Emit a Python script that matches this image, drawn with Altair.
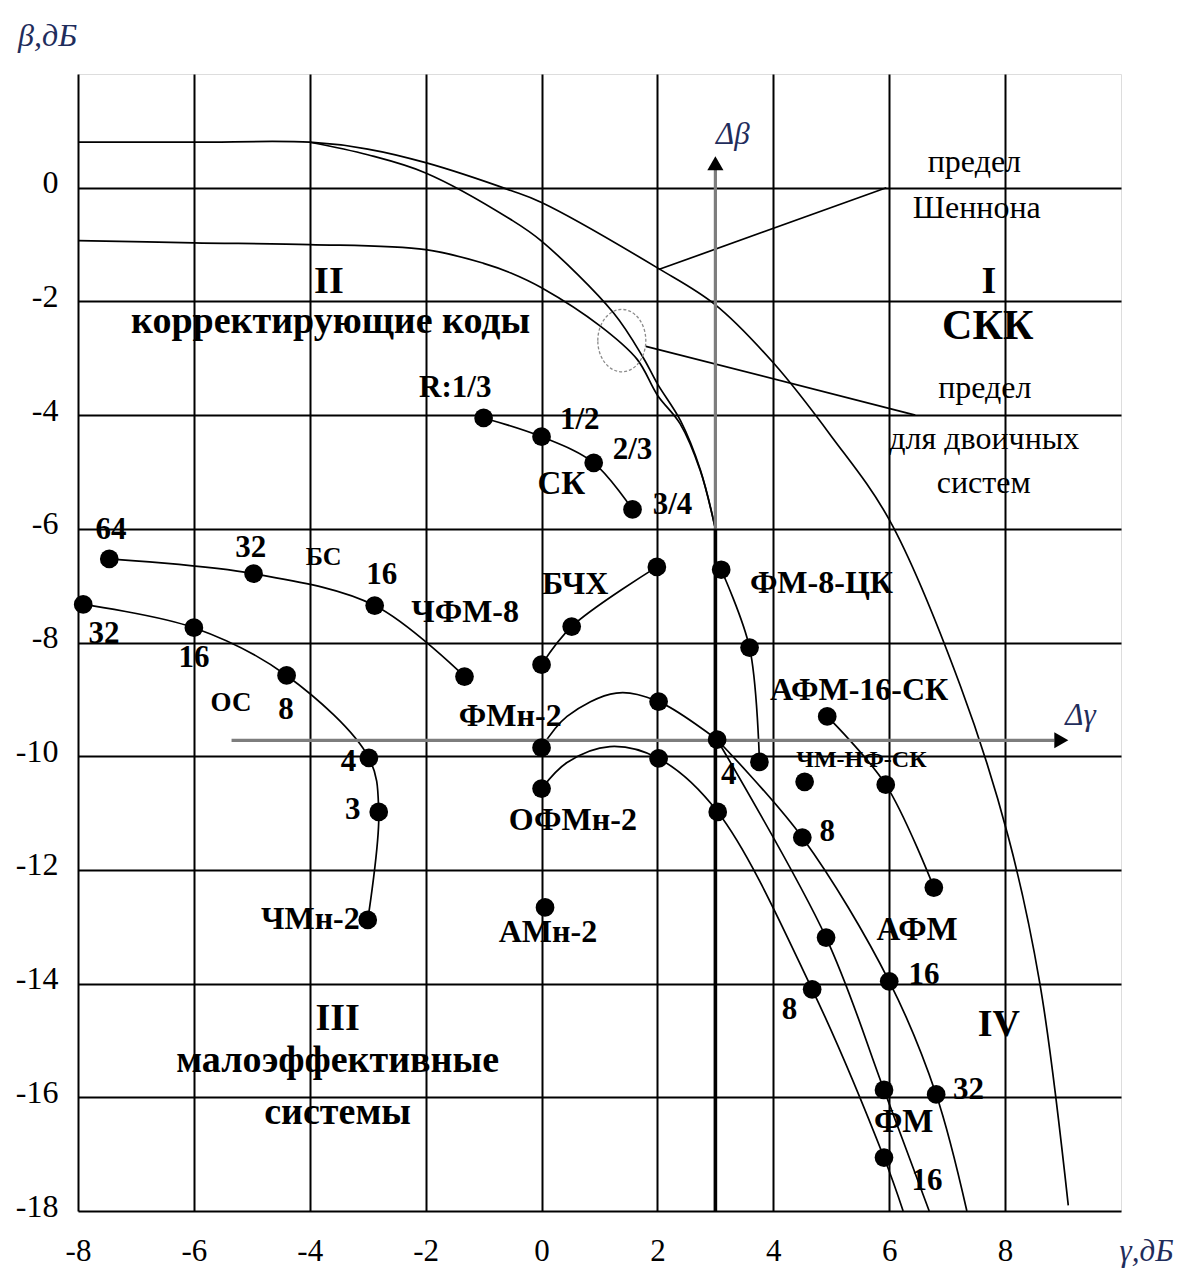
import altair as alt
import pandas as pd

FONT = "Liberation Serif"
NAVY = "#1f2d5c"

x_domain = [-8, 10]
y_domain = [-18, 2]
x_ticks = [-8, -6, -4, -2, 0, 2, 4, 6, 8]
y_ticks = [-18, -16, -14, -12, -10, -8, -6, -4, -2, 0]

# ---- limit curves ----
shannon_x = [-8, -6, -4, -3, -2, -0.53, 0, 2, 3, 4, 5, 6, 7.23, 8.05, 8.6, 9.09]
shannon_y = [0.8, 0.8, 0.8, 0.68, 0.44, -0.05, -0.26, -1.41, -2.06, -3.08, -4.37, -5.84, -8.77, -11.4, -14.0, -17.9]
inner_x = [-4, -3, -2, -0.53, 0, 1.24, 1.76, 2, 2.4, 2.74, 3]
inner_y = [0.8, 0.58, 0.26, -0.56, -0.94, -2.2, -3.0, -3.45, -4.1, -4.96, -6]
binary_x = [-8, -6, -4, -2, -1, -0.53, 0, 1.02, 1.65, 2, 2.39, 2.74, 3]
binary_y = [-0.93, -0.97, -1.0, -1.09, -1.33, -1.5, -1.76, -2.44, -3.02, -3.65, -4.15, -4.98, -6]

# ---- system families ----
sk_x = [-1.0, 0.0, 0.9, 1.57]
sk_y = [-4.05, -4.38, -4.84, -5.66]
bs_x = [-7.46, -4.97, -2.88, -1.33]
bs_y = [-6.53, -6.79, -7.35, -8.6]
os_x = [-7.91, -6.0, -4.4, -2.98, -2.81, -3.0]
os_y = [-7.33, -7.74, -8.58, -10.03, -10.98, -12.88]
bch_x = [0.0, 0.52, 1.99]
bch_y = [-8.39, -7.72, -6.67]
fm8ck_x = [3.1, 3.59, 3.76]
fm8ck_y = [-6.72, -8.09, -10.1]
afm16ck_x = [4.93, 5.94, 6.77]
afm16ck_y = [-9.3, -10.5, -12.31]
fm_arc_x = [0.0, 0.44, 1.29, 2.02, 3.03]
fm_arc_y = [-9.85, -9.3, -8.89, -9.04, -9.71]
fm_arc_dot = [1, 0, 0, 1, 1]
afm_x = [3.03, 4.5, 6.0, 6.81, 7.34]
afm_y = [-9.71, -11.43, -13.96, -15.95, -18.0]
afm_dot = [0, 1, 1, 1, 0]
fm_x = [3.03, 4.91, 5.91, 6.69]
fm_y = [-9.71, -13.19, -15.87, -18.0]
fm_dot = [0, 1, 1, 0]
ofm_x = [0.0, 0.44, 1.18, 2.02, 3.04, 4.67, 5.91, 6.24]
ofm_y = [-10.57, -10.11, -9.83, -10.04, -10.98, -14.1, -17.06, -18.0]
ofm_dot = [1, 0, 0, 1, 1, 1, 1, 0]
single_x = [4.54, 0.06]
single_y = [-10.45, -12.66]

# ---- annotations ----
pointer_x = [2.02, 5.95, 1.8, 6.45]
pointer_y = [-1.44, 0.0, -2.79, -4.0]
pointer_id = ["a", "a", "b", "b"]
ellipse_x = [1.385]
ellipse_y = [-2.69]
gray_x = [3, 3, -5.35, 8.85]
gray_y = [-6, 0.4, -9.72, -9.72]
gray_id = ["db", "db", "dg", "dg"]
thick_x = [3, 3]
thick_y = [-18, -6]

bold_t = ["II", "корректирующие коды", "I", "СКК", "R:1/3", "1/2", "2/3", "СК", "3/4",
          "64", "32", "БС", "16", "ЧФМ-8", "32", "16", "ОС", "8", "4", "3", "ЧМн-2",
          "АМн-2", "ОФМн-2", "ФМн-2", "БЧХ", "ФМ-8-ЦК", "АФМ-16-СК", "ЧМ-НФ-СК",
          "4", "8", "АФМ", "16", "IV", "8", "32", "ФМ", "16",
          "III", "малоэффективные", "системы"]
bold_x = [-3.67, -3.64, 7.72, 7.7, -1.49, 0.66, 1.57, 0.34, 2.26,
          -7.43, -5.02, -3.76, -2.76, -1.32, -7.55, -6.0, -5.36, -4.41, -3.33, -3.26, -3.99,
          0.11, 0.54, -0.54, 0.58, 4.83, 5.48, 5.52,
          3.23, 4.93, 6.48, 6.6, 7.89, 4.28, 7.37, 6.25, 6.65,
          -3.52, -3.52, -3.52]
bold_y = [-1.65, -2.36, -1.65, -2.43, -3.52, -4.08, -4.61, -5.22, -5.58,
          -6.02, -6.33, -6.49, -6.81, -7.46, -7.85, -8.28, -9.06, -9.18, -10.1, -10.94, -12.87,
          -13.09, -11.12, -9.3, -6.97, -6.95, -8.83, -10.06,
          -10.33, -11.33, -13.05, -13.84, -14.72, -14.46, -15.87, -16.43, -17.48,
          -14.62, -15.37, -16.27]
bold_s = [38, 38, 38, 42, 31, 31, 31, 33, 31,
          31, 31, 26, 31, 32, 31, 31, 27, 31, 31, 31, 32,
          32, 32, 32, 32, 32, 32, 24,
          31, 31, 33, 31, 38, 31, 31, 33, 31,
          38, 38, 38]

normal_t = ["предел", "Шеннона", "предел", "для двоичных", "систем"]
normal_x = [7.47, 7.51, 7.65, 7.64, 7.63]
normal_y = [0.45, -0.35, -3.52, -4.42, -5.19]

italic_t = ["Δβ", "Δγ"]
italic_x = [3.3, 9.3]
italic_y = [0.93, -9.29]


def path(name, xs, ys):
    return pd.DataFrame({"x": xs, "y": ys, "s": [name] * len(xs), "o": list(range(len(xs)))})


curves = pd.concat([
    path("shannon", shannon_x, shannon_y),
    path("inner", inner_x, inner_y),
    path("binary", binary_x, binary_y),
    path("sk", sk_x, sk_y),
    path("bs", bs_x, bs_y),
    path("os", os_x, os_y),
    path("bch", bch_x, bch_y),
    path("fm8ck", fm8ck_x, fm8ck_y),
    path("afm16ck", afm16ck_x, afm16ck_y),
    path("fmarc", fm_arc_x, fm_arc_y),
    path("afm", afm_x, afm_y),
    path("fm", fm_x, fm_y),
    path("ofm", ofm_x, ofm_y),
], ignore_index=True)


def dots_of(xs, ys, mask=None):
    if mask is None:
        mask = [1] * len(xs)
    return pd.DataFrame({"x": [a for a, m in zip(xs, mask) if m],
                         "y": [b for b, m in zip(ys, mask) if m]})


dots = pd.concat([
    dots_of(sk_x, sk_y), dots_of(bs_x, bs_y), dots_of(os_x, os_y),
    dots_of(bch_x, bch_y), dots_of(fm8ck_x, fm8ck_y), dots_of(afm16ck_x, afm16ck_y),
    dots_of(fm_arc_x, fm_arc_y, fm_arc_dot), dots_of(afm_x, afm_y, afm_dot),
    dots_of(fm_x, fm_y, fm_dot), dots_of(ofm_x, ofm_y, ofm_dot),
    dots_of(single_x, single_y),
], ignore_index=True)

pointers = pd.DataFrame({"x": pointer_x, "y": pointer_y, "s": pointer_id})
grays = pd.DataFrame({"x": gray_x, "y": gray_y, "s": gray_id})
thick = pd.DataFrame({"x": thick_x, "y": thick_y})
ellipse = pd.DataFrame({"x": ellipse_x, "y": ellipse_y})
head_up = pd.DataFrame({"x": [3], "y": [0.43]})
head_right = pd.DataFrame({"x": [8.97], "y": [-9.72]})
bold_df = pd.DataFrame({"x": bold_x, "y": bold_y, "t": bold_t, "fs": bold_s})
normal_df = pd.DataFrame({"x": normal_x, "y": normal_y, "t": normal_t})
italic_df = pd.DataFrame({"x": italic_x, "y": italic_y, "t": italic_t})

x_axis = alt.Axis(values=x_ticks, grid=True, gridColor="black", gridWidth=2, domain=False,
                  ticks=False, tickSize=0, labelFont=FONT, labelFontSize=31, labelColor="black",
                  labelPadding=40, labelBaseline="middle", labelFlush=False, labelOverlap=False,
                  labelExpr="datum.value < 0 ? ('' + datum.value + '\u00a0') : ('' + datum.value)",
                  title="γ,дБ", titleFont=FONT, titleFontStyle="italic", titleFontWeight="normal",
                  titleFontSize=31, titleColor=NAVY, titleX=1068, titleY=40,
                  titleAlign="center", titleBaseline="middle")
y_axis = alt.Axis(values=y_ticks, grid=True, gridColor="black", gridWidth=2, domain=False,
                  ticks=False, tickSize=0, labelFont=FONT, labelFontSize=32, labelColor="black",
                  labelPadding=20, labelOffset=-5, labelFlush=False, labelOverlap=False,
                  labelExpr="'' + datum.value",
                  title="β,дБ", titleFont=FONT, titleFontStyle="italic", titleFontWeight="normal",
                  titleFontSize=32, titleColor=NAVY, titleAngle=0, titleX=-31, titleY=-39,
                  titleAlign="center", titleBaseline="middle")

X = alt.X("x:Q", scale=alt.Scale(domain=x_domain, nice=False, zero=False), axis=x_axis)
Y = alt.Y("y:Q", scale=alt.Scale(domain=y_domain, nice=False, zero=False), axis=y_axis)

l_curves = alt.Chart(curves).mark_line(interpolate="catmull-rom", color="black",
                                       strokeWidth=1.7).encode(X, Y, detail="s:N", order="o:Q")
l_pointers = alt.Chart(pointers).mark_line(color="black", strokeWidth=1.7).encode(X, Y, detail="s:N")
l_gray = alt.Chart(grays).mark_line(color="#7d7d7d", strokeWidth=3.2).encode(X, Y, detail="s:N")
l_thick = alt.Chart(thick).mark_line(color="black", strokeWidth=3.6).encode(X, Y)
l_up = alt.Chart(head_up).mark_point(shape="triangle-up", filled=True, color="black",
                                     opacity=1, size=260).encode(X, Y)
l_right = alt.Chart(head_right).mark_point(shape="triangle-right", filled=True, color="black",
                                           opacity=1, size=260).encode(X, Y)
l_ellipse = alt.Chart(ellipse).mark_point(
    shape="M-1,0A1,1.3 0 1,1 1,0A1,1.3 0 1,1 -1,0Z", filled=False, color="#8a8a8a",
    strokeWidth=1.3, strokeDash=[3, 2], size=2304, opacity=1).encode(X, Y)
l_dots = alt.Chart(dots).mark_circle(color="black", opacity=1, size=350).encode(X, Y)
l_bold = alt.Chart(bold_df).mark_text(font=FONT, fontWeight="bold", color="black", align="center",
                                      baseline="middle").encode(X, Y, text="t:N",
                                                                size=alt.Size("fs:Q", scale=None))
l_normal = alt.Chart(normal_df).mark_text(font=FONT, fontSize=32, color="black", align="center",
                                          baseline="middle").encode(X, Y, text="t:N")
l_italic = alt.Chart(italic_df).mark_text(font=FONT, fontSize=31, fontStyle="italic", color=NAVY,
                                          align="center", baseline="middle").encode(X, Y, text="t:N")

chart = alt.layer(l_curves, l_pointers, l_gray, l_thick, l_up, l_right, l_ellipse, l_dots,
                  l_bold, l_normal, l_italic).properties(
    width=1043, height=1137,
    padding={"left": 70, "top": 66, "right": 55, "bottom": 58},
    autosize=alt.AutoSizeParams(type="none"),
).configure_view(stroke="black", strokeWidth=2).configure(background="white")

chart.save("out.html", embed_options={"renderer": "svg", "actions": False})
